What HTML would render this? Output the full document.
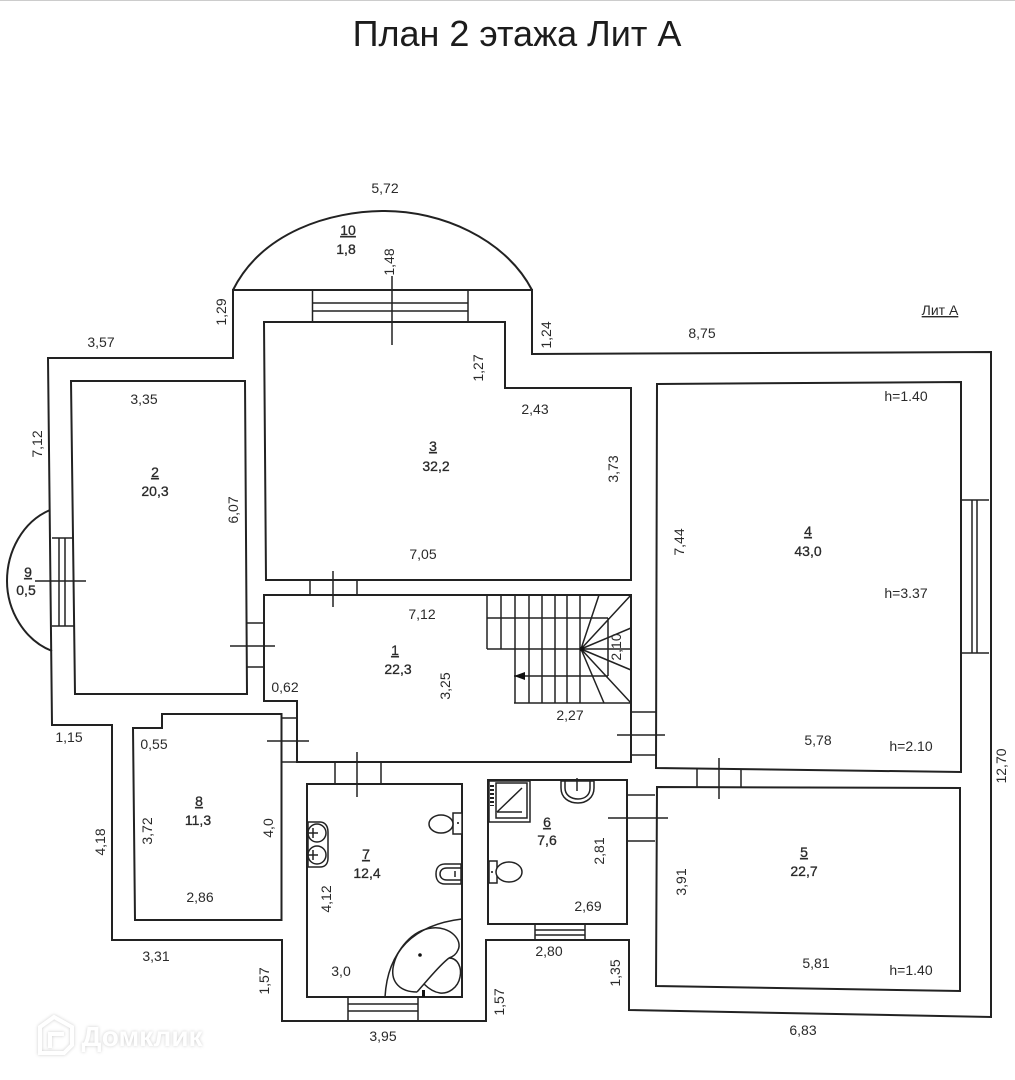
<!DOCTYPE html>
<html><head><meta charset="utf-8"><style>
html,body{margin:0;padding:0;background:#fff}
svg{display:block}
text{font-family:"Liberation Sans",sans-serif;font-size:14px;fill:#2a2a2a;text-anchor:middle}
.b{stroke:#2a2a2a;stroke-width:.3px}
.l{fill:none;stroke:#222;stroke-width:2;stroke-linejoin:miter}
.t{fill:none;stroke:#222;stroke-width:1.5}
.f{fill:#fff;stroke:#222;stroke-width:1.5}
</style></head><body>
<svg width="1015" height="1080" viewBox="0 0 1015 1080" xmlns="http://www.w3.org/2000/svg">
<rect width="1015" height="1080" fill="#fff"/>
<rect width="1015" height="1" fill="#ccc"/>
<text x="517" y="46" style="font-size:36px;fill:#1c1c1c">План 2 этажа Лит А</text>

<!-- Outer walls -->
<path class="l" d="M233 290H532V354L991 352L991 1017L629 1010V940H486V1021H282V940H112V725H52L48 358H233Z"/>
<!-- Arcs -->
<path class="l" d="M233 290C262 232 330 211 385 211C440 211 505 238 532 290"/>
<path class="l" d="M50 510C22 522 7 552 7 581C7 610 24 640 52 651"/>

<!-- Rooms -->
<path class="l" d="M71 381H245L247 694H75Z"/>
<path class="l" d="M264 322H505V388H631V580H266Z"/>
<path class="l" d="M657 384L961 382V772L656 768Z"/>
<path class="l" d="M657 787L960 788V991L656 986Z"/>
<path class="l" d="M264 595H631V762H297V701H264Z"/>
<path class="l" d="M133 728H162V714H281.500V920H135Z"/>
<path class="l" d="M307 784H462V997H307Z"/>
<path class="l" d="M488 780H627V924H488Z"/>

<!-- Doors -->
<path class="t" d="M310 580V595M357 580V595M333 571V607"/>
<path class="t" d="M247 623H264M247 667H264M230 646H275"/>
<path class="t" d="M282 718H297M282 762H297M267 741H309"/>
<path class="t" d="M335 762V784M381 762V784M357 752V797"/>
<path class="t" d="M627 795H655M627 841H655M608 818H668"/>
<path class="t" d="M632 712H656M632 755H656M617 735H665"/>
<path class="t" d="M697 769V787M741 770V787M719 758V799"/>

<!-- Windows -->
<path class="t" d="M961 500H989M961 653H989M972 500V653M977 500V653"/>
<path class="t" d="M312.500 290V322M468 290V322M312.500 303H468M312.500 311H468M392 276V345"/>
<path class="t" d="M52 538H73M52 626H74M59 538V626M65 538V626M35 581H86"/>
<path class="t" d="M348 997V1021M418 997V1021M348 1004H418M348 1011H418"/>
<path class="t" d="M535 924V940M585 924V940M535 930H585M535 935H585"/>

<!-- Stairs -->
<path class="t" d="M487 595V649M501 595V649M515 595V703M529 595V703M542 595V703M555 595V703M567 595V703M580 595V703"/>
<path class="t" d="M487 618H608M487 649H608M514 676H608M514 703H631M608 618V676"/>
<path class="t" d="M581 649L599 595M581 649L631 595M581 649L631 628M581 649L631 670M581 649L631 703M581 649L604 703M608 649H631"/>
<circle cx="582" cy="649" r="2.500" fill="#111"/>
<path d="M514 676L525 672V680Z" fill="#111"/>

<!-- Shower -->
<rect class="t" x="489" y="781" width="41" height="41"/>
<rect class="t" x="496" y="783" width="31" height="35"/>
<path class="t" d="M497 812L522 788M497 812H522"/>
<path class="t" stroke-dasharray="2 2" d="M492 785V806" style="stroke-width:4"/>
<!-- Sink 6 -->
<path class="f" d="M561 781H594V788C594 798 586 803 578 803C569 803 561 798 561 788Z"/>
<path class="t" d="M565 781V788C565 795 571 799 578 799C585 799 590 795 590 788V781"/>
<path class="t" d="M577 778V791"/>
<!-- WC room 6 -->
<path class="f" d="M489 861H497V883H489Z"/>
<ellipse class="f" cx="509" cy="872" rx="13" ry="10"/>
<circle cx="492" cy="872" r="1" fill="#111"/>
<!-- WC room 7 -->
<path class="f" d="M453 813H462V834H453Z"/>
<ellipse class="f" cx="441" cy="824" rx="12" ry="9"/>
<circle cx="458" cy="823" r="1" fill="#111"/>
<!-- Bidet -->
<path class="f" d="M461 864H445C439 864 436 868 436 874C436 880 439 884 445 884H461Z"/>
<path class="t" d="M461 868H447C442 868 440 871 440 874C440 877 442 880 447 880H461"/>
<path class="t" d="M455 871V877"/>
<!-- Double sink -->
<path class="f" d="M308 822H320C325 822 328 826 328 832V858C328 864 325 867 320 867H308Z"/>
<circle class="t" cx="317" cy="833" r="9"/>
<circle class="t" cx="317" cy="855" r="9"/>
<path class="t" d="M308 833H318M313 828V838M308 855H318M313 850V860"/>
<!-- Bath -->
<path class="t" d="M385 997C388 945 420 924 462 919"/>
<path class="t" d="M417 992C400 992 391 982 393 968C396 950 412 930 432 928C450 926 463 940 458 950C456 955 452 957 449 958C458 958 462 968 460 977C458 988 448 994 440 993C433 992 428 988 424 984C432 975 440 965 449 958M424 984L417 992"/>
<circle cx="420" cy="955" r="1.800" fill="#111"/>
<path d="M422 990H425V997H422Z" fill="#111"/>

<!-- Room labels -->
<g class="b" style="font-size:13.5px">
<text x="348" y="235" text-decoration="underline">10</text><text x="346" y="254">1,8</text>
<text x="155" y="477" text-decoration="underline">2</text><text x="155" y="496">20,3</text>
<text x="433" y="451" text-decoration="underline">3</text><text x="436" y="471">32,2</text>
<text x="808" y="536" text-decoration="underline">4</text><text x="808" y="556">43,0</text>
<text x="395" y="655" text-decoration="underline">1</text><text x="398" y="674">22,3</text>
<text x="28" y="577" text-decoration="underline">9</text><text x="26" y="595">0,5</text>
<text x="199" y="806" text-decoration="underline">8</text><text x="198" y="825">11,3</text>
<text x="366" y="859" text-decoration="underline">7</text><text x="367" y="878">12,4</text>
<text x="547" y="827" text-decoration="underline">6</text><text x="547" y="845">7,6</text>
<text x="804" y="857" text-decoration="underline">5</text><text x="804" y="876">22,7</text>
</g>

<!-- Dimensions -->
<text x="385" y="193">5,72</text>
<text x="101" y="347">3,57</text>
<text x="702" y="338">8,75</text>
<text x="144" y="404">3,35</text>
<text x="535" y="414">2,43</text>
<text x="906" y="401">h=1.40</text>
<text x="423" y="559">7,05</text>
<text x="422" y="619">7,12</text>
<text x="906" y="598">h=3.37</text>
<text x="285" y="692">0,62</text>
<text x="570" y="720">2,27</text>
<text x="69" y="742">1,15</text>
<text x="154" y="749">0,55</text>
<text x="818" y="745">5,78</text>
<text x="911" y="751">h=2.10</text>
<text x="200" y="902">2,86</text>
<text x="588" y="911">2,69</text>
<text x="156" y="961">3,31</text>
<text x="549" y="956">2,80</text>
<text x="341" y="976">3,0</text>
<text x="816" y="968">5,81</text>
<text x="911" y="975">h=1.40</text>
<text x="383" y="1041">3,95</text>
<text x="803" y="1035">6,83</text>
<text x="940" y="315" text-decoration="underline" style="font-size:14px">Лит А</text>

<text transform="translate(394,262) rotate(-90)">1,48</text>
<text transform="translate(226,312) rotate(-90)">1,29</text>
<text transform="translate(551,335) rotate(-90)">1,24</text>
<text transform="translate(483,368) rotate(-90)">1,27</text>
<text transform="translate(42,444) rotate(-90)">7,12</text>
<text transform="translate(238,510) rotate(-90)">6,07</text>
<text transform="translate(618,469) rotate(-90)">3,73</text>
<text transform="translate(684,542) rotate(-90)">7,44</text>
<text transform="translate(450,686) rotate(-90)">3,25</text>
<text transform="translate(621,647) rotate(-90)">2,10</text>
<text transform="translate(1006,766) rotate(-90)">12,70</text>
<text transform="translate(152,831) rotate(-90)">3,72</text>
<text transform="translate(273,828) rotate(-90)">4,0</text>
<text transform="translate(105,842) rotate(-90)">4,18</text>
<text transform="translate(331,899) rotate(-90)">4,12</text>
<text transform="translate(604,851) rotate(-90)">2,81</text>
<text transform="translate(686,882) rotate(-90)">3,91</text>
<text transform="translate(269,981) rotate(-90)">1,57</text>
<text transform="translate(504,1002) rotate(-90)">1,57</text>
<text transform="translate(620,973) rotate(-90)">1,35</text>

<!-- Watermark -->
<g style="filter:drop-shadow(0 0 1.500px rgba(0,0,0,.2))">
<path d="M54 1017L72 1027V1045L64 1053H40V1027Z" fill="none" stroke="#fff" stroke-width="4"/>
<path d="M64 1034H50V1048" fill="none" stroke="#fff" stroke-width="4"/>
<text x="142" y="1046" style="font-size:28px;font-weight:bold;fill:#fff">Домклик</text>
</g>
</svg>
</body></html>
